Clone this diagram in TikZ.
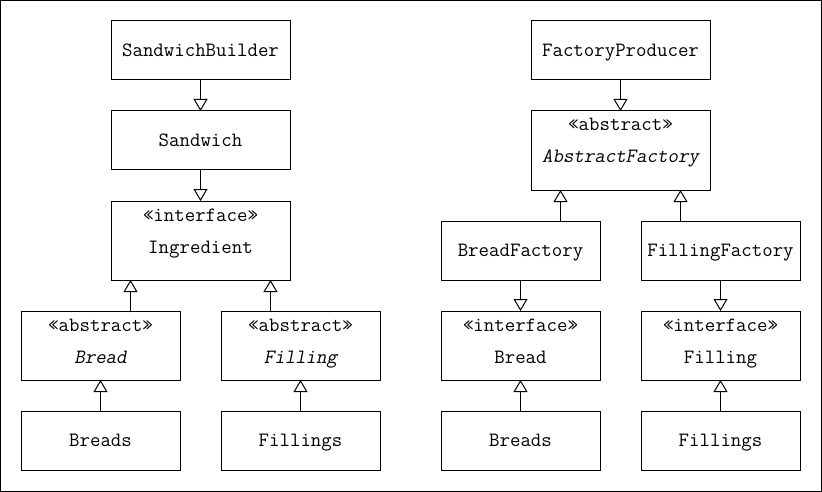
\documentclass[tikz,border=0pt]{standalone}
\usepackage{fontspec}
\usetikzlibrary{arrows.meta,calc}
\newfontfamily\oblmono[FakeSlant=0.2]{Latin Modern Mono}
\newcommand{\diafont}{\ttfamily\fontsize{20.3}{22}\selectfont}
\begin{document}
\begin{tikzpicture}[x=1pt,y=-1pt,
  box/.style={draw=black,line width=1pt,inner sep=0pt,outer sep=0pt,fill=white,
    text height=12pt,text depth=0pt,font=\diafont},
  wbig/.style={minimum width=179pt},
  wsmall/.style={minimum width=159pt},
  hone/.style={minimum height=59pt},
  htwo/.style={minimum height=69pt},
  hthree/.style={minimum height=79pt},
  lbl/.style={inner sep=0pt,anchor=base,font=\diafont},
  ital/.style={font=\oblmono\fontsize{20.3}{22}\selectfont},
  inh/.style={draw=black,line width=1pt,-{Triangle[open,length=12pt,width=14pt,fill=white]}}
]
\useasboundingbox (0,0) rectangle (822,492);
\draw[line width=1pt] (0.5,0.5) rectangle (821.5,491.5);

% left side
\node[box,wbig,hone] (sb) at (200.5,50.5) {SandwichBuilder};
\node[box,wbig,hone] (sw) at (200.5,140.5) {Sandwich};
\node[box,wbig,hthree] (ingr) at (200.5,240.5) {};
\node[lbl] (ingrs) at ($(ingr.north)+(0,20)$) {«interface»};
\node[lbl] (ingrn) at ($(ingr.north)+(0,52)$) {Ingredient};
\node[box,wsmall,htwo] (absbread) at (100.5,345.5) {};
\node[lbl] (absbreads) at ($(absbread.north)+(0,20)$) {«abstract»};
\node[lbl,ital] (absbreadn) at ($(absbread.north)+(0,52)$) {Bread};
\node[box,wsmall,htwo] (absfill) at (300.5,345.5) {};
\node[lbl] (absfills) at ($(absfill.north)+(0,20)$) {«abstract»};
\node[lbl,ital] (absfilln) at ($(absfill.north)+(0,52)$) {Filling};
\node[box,wsmall,hone] (breadsl) at (100.5,440.5) {Breads};
\node[box,wsmall,hone] (fillsl) at (300.5,440.5) {Fillings};

% right side
\node[box,wbig,hone] (fp) at (620.5,50.5) {FactoryProducer};
\node[box,wbig,hthree] (af) at (620.5,150.5) {};
\node[lbl] (afs) at ($(af.north)+(0,20)$) {«abstract»};
\node[lbl,ital] (afn) at ($(af.north)+(0,52)$) {AbstractFactory};
\node[box,wsmall,hone] (bf) at (520.5,250.5) {BreadFactory};
\node[box,wsmall,hone] (ff) at (720.5,250.5) {FillingFactory};
\node[box,wsmall,htwo] (ibread) at (520.5,345.5) {};
\node[lbl] (ibreads) at ($(ibread.north)+(0,20)$) {«interface»};
\node[lbl] (ibreadn) at ($(ibread.north)+(0,52)$) {Bread};
\node[box,wsmall,htwo] (ifill) at (720.5,345.5) {};
\node[lbl] (ifills) at ($(ifill.north)+(0,20)$) {«interface»};
\node[lbl] (ifilln) at ($(ifill.north)+(0,52)$) {Filling};
\node[box,wsmall,hone] (breadsr) at (520.5,440.5) {Breads};
\node[box,wsmall,hone] (fillsr) at (720.5,440.5) {Fillings};

% connectors left
\draw[inh] (sb.south) -- (sw.north);
\draw[inh] (sw.south) -- (ingr.north);
\coordinate (e1) at ($(absbread.north)+(30,0)$);
\coordinate (e2) at ($(absfill.north)+(-30,0)$);
\draw[inh] (e1) -- (e1 |- ingr.south);
\draw[inh] (e2) -- (e2 |- ingr.south);
\draw[inh] (breadsl.north) -- (absbread.south);
\draw[inh] (fillsl.north) -- (absfill.south);

% connectors right
\draw[inh] (fp.south) -- (af.north);
\coordinate (e3) at ($(bf.north)+(40,0)$);
\coordinate (e4) at ($(ff.north)+(-40,0)$);
\draw[inh] (e3) -- (e3 |- af.south);
\draw[inh] (e4) -- (e4 |- af.south);
\draw[inh] (bf.south) -- (ibread.north);
\draw[inh] (ff.south) -- (ifill.north);
\draw[inh] (breadsr.north) -- (ibread.south);
\draw[inh] (fillsr.north) -- (ifill.south);
\end{tikzpicture}
\end{document}
